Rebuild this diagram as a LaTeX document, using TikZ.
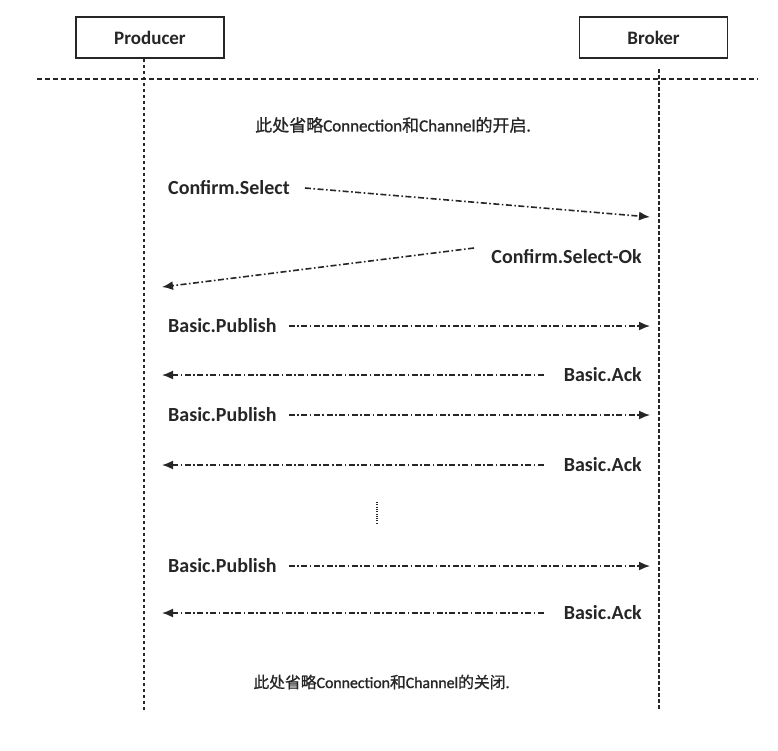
\documentclass[tikz,border=0pt]{standalone}
\usepackage{fontspec}
\setmainfont{Carlito}
\newfontfamily\cjk{Noto Sans CJK SC}[FakeBold=0.9]
\newfontfamily\latn{Carlito}[FakeBold=1.2]
\usetikzlibrary{arrows.meta}
\definecolor{ink}{HTML}{262626}
\begin{document}
\begin{tikzpicture}[x=1pt,y=-1pt,
  actor/.style={draw=ink,line width=1.4pt,fill=white,minimum width=148pt,minimum height=41pt,inner sep=0pt,font=\fontsize{19}{22}\selectfont\bfseries,text=ink},
  life/.style={draw=ink,line width=1.6pt,dash pattern=on 3.5pt off 2.5pt},
  sep/.style={draw=ink,line width=1.3pt,dash pattern=on 5pt off 3pt},
  lbl/.style={inner sep=0pt,font=\fontsize{20}{24}\selectfont\bfseries,text=ink},
  note/.style={inner sep=0pt,text=ink},
  msg/.style={draw=ink,line width=1.6pt,dash pattern=on 6pt off 2.5pt on 1.6pt off 2.5pt,-{Latex[length=11pt,width=9pt]}}
]
\useasboundingbox (0,0) rectangle (778,750);
% actors
\node[actor] (prod) at (150,37.5) {Producer};
\node[actor] (brok) at (653.5,37.5) {Broker};
\coordinate (pe) at (144,710);
\coordinate (bs) at (659,69);
\coordinate (be) at (659,710);
\draw[life] (prod.south -| pe) -- (pe);
\draw[life] (bs) -- (be);
% separator
\coordinate (s1) at (37,79);
\coordinate (s2) at (758,79);
\draw[sep] (s1) -- (s2);
% notes
\node[note,font=\fontsize{17}{20}\selectfont\latn] (open) at (393,125) {{\cjk 此处省略}Connection{\cjk 和}Channel{\cjk 的开启}.};
\node[note,font=\fontsize{15.8}{19}\selectfont\latn] (close) at (381.5,682) {{\cjk 此处省略}Connection{\cjk 和}Channel{\cjk 的关闭}.};
% messages
\node[lbl,anchor=west] (cs) at (168,188) {Confirm.Select};
\coordinate (cse) at (650,217);
\draw[msg] ([xshift=15pt]cs.east) -- (cse);
\node[lbl,anchor=east] (cso) at (642,257) {Confirm.Select-Ok};
\coordinate (csoe) at (162,287);
\draw[msg] (474,248) -- (csoe);
% publish / ack pairs
\foreach \i/\yp/\ya in {1/326/375, 2/415/465, 3/566/613}{
  \node[lbl,anchor=west] (bp\i) at (168,\yp) {Basic.Publish};
  \coordinate (bpe\i) at (650,\yp);
  \draw[msg] ([xshift=12pt]bp\i.east) -- (bpe\i);
  \node[lbl,anchor=east] (ba\i) at (642,\ya) {Basic.Ack};
  \coordinate (bae\i) at (162,\ya);
  \draw[msg] ([xshift=-20pt]ba\i.west) -- (bae\i);
}
% ellipsis
\coordinate (d1) at (377,502);
\coordinate (d2) at (377,523);
\draw[draw=ink,line width=1.3pt,dash pattern=on 1pt off 1.3pt] (d1) -- (d2);
\end{tikzpicture}
\end{document}
